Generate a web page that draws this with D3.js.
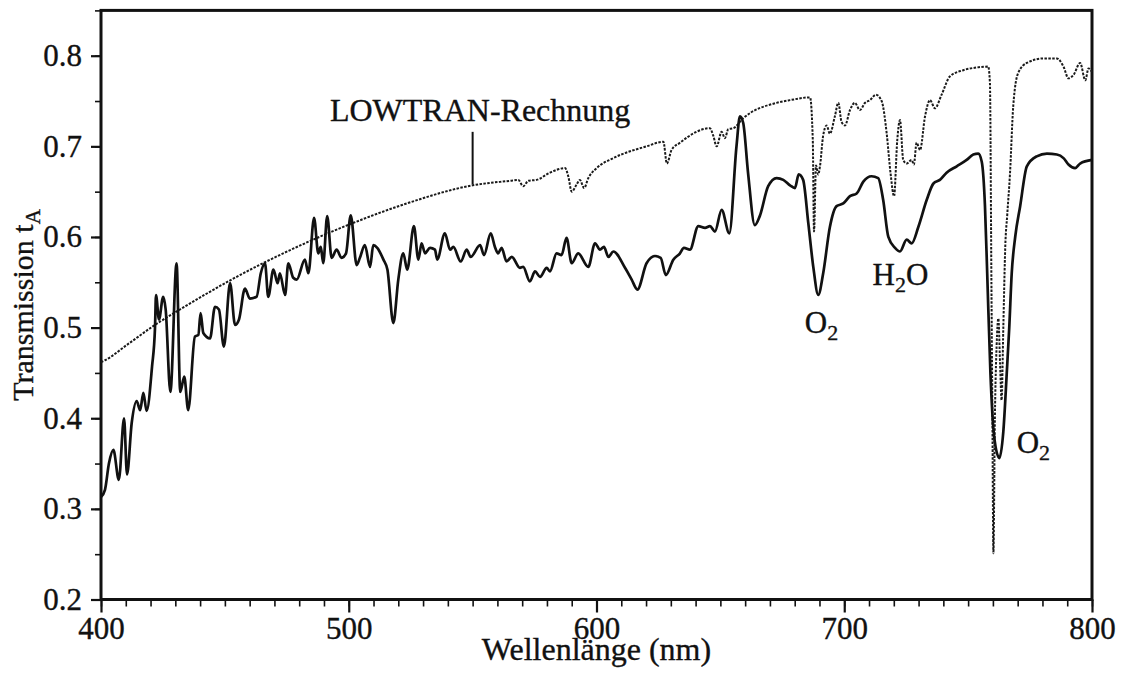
<!DOCTYPE html>
<html>
<head>
<meta charset="utf-8">
<script src="https://cdn.jsdelivr.net/npm/d3@7"></script>
<style>
  body { margin: 0; background: #fff; }
  text { font-family: "Liberation Serif", "Times New Roman", serif; fill: #111; stroke: #111; stroke-width: 0.35px; }
</style>
</head>
<body>
<svg id="chart" width="1123" height="673"></svg>
<script>
// measured transmission [wavelength nm, t_A]
const measured = [
  [400.0,0.313],[401.6,0.321],[403.2,0.350],[405.0,0.365],[407.2,0.332],[409.3,0.400],
  [410.5,0.338],[412.4,0.395],[414.4,0.419],[415.8,0.409],[417.1,0.428],[418.4,0.408],
  [420.6,0.457],[421.8,0.500],[422.2,0.536],[423.4,0.509],[425.1,0.534],[426.1,0.520],
  [428.0,0.429],[430.5,0.571],[432.0,0.429],[433.6,0.446],[435.2,0.409],[437.9,0.490],
  [439.3,0.492],[440.2,0.516],[441.3,0.494],[444.0,0.488],[446.0,0.523],[447.6,0.520],
  [449.6,0.479],[452.1,0.549],[454.1,0.503],[455.7,0.509],[458.1,0.543],[460.1,0.532],
  [462.8,0.534],[464.5,0.560],[466.2,0.571],[467.5,0.534],[469.6,0.564],[471.3,0.549],
  [472.2,0.560],[474.3,0.536],[475.6,0.571],[477.6,0.555],[479.0,0.553],[482.3,0.575],
  [483.7,0.560],[486.0,0.621],[487.7,0.582],[488.7,0.589],[489.7,0.571],[491.3,0.623],
  [493.1,0.577],[495.1,0.586],[497.1,0.577],[498.9,0.582],[500.8,0.624],[503.2,0.569],
  [504.5,0.577],[506.5,0.591],[508.6,0.567],[509.9,0.591],[511.5,0.588],[514.0,0.575],
  [515.6,0.564],[518.0,0.505],[520.0,0.553],[522.0,0.582],[523.6,0.564],[526.3,0.612],
  [528.1,0.575],[529.4,0.593],[530.8,0.582],[532.8,0.588],[534.8,0.586],[535.7,0.575],
  [538.8,0.604],[540.9,0.586],[542.2,0.589],[545.2,0.573],[547.6,0.586],[549.2,0.578],
  [553.0,0.591],[554.6,0.580],[557.3,0.604],[559.0,0.589],[560.3,0.582],[561.7,0.588],
  [563.7,0.573],[565.8,0.578],[569.1,0.566],[570.4,0.567],[573.1,0.551],[575.2,0.562],
  [577.2,0.556],[579.9,0.566],[581.2,0.562],[583.9,0.582],[585.9,0.580],[587.9,0.599],
  [590.0,0.571],[592.6,0.582],[596.7,0.567],[599.4,0.593],[601.4,0.586],[603.0,0.589],
  [604.8,0.578],[606.8,0.584],[611.5,0.566],[614.2,0.553],[616.5,0.542],[620.2,0.571],
  [623.6,0.579],[625.9,0.577],[628.0,0.558],[631.0,0.575],[633.7,0.582],[635.3,0.588],
  [637.7,0.586],[641.1,0.612],[643.8,0.610],[645.8,0.612],[647.8,0.606],[650.5,0.630],
  [653.6,0.604],[656.5,0.700],[657.9,0.733],[659.2,0.726],[661.2,0.670],[663.9,0.613],
  [665.9,0.623],[669.3,0.656],[672.7,0.665],[675.4,0.663],[678.1,0.657],[680.1,0.654],
  [681.6,0.669],[683.4,0.663],[685.5,0.615],[687.5,0.567],[689.5,0.536],[691.5,0.560],
  [694.2,0.611],[696.9,0.634],[699.6,0.637],[702.3,0.645],[705.0,0.648],[707.7,0.661],
  [711.0,0.667],[713.7,0.665],[715.7,0.641],[717.8,0.600],[720.5,0.588],[722.5,0.584],
  [725.2,0.597],[727.2,0.593],[729.9,0.611],[733.3,0.641],[736.0,0.659],[738.6,0.663],
  [741.3,0.671],[745.4,0.678],[749.4,0.685],[752.1,0.691],[754.1,0.692],[755.5,0.683],
  [756.8,0.634],[757.7,0.560],[759.0,0.450],[760.5,0.380],[762.6,0.356],[764.2,0.385],
  [765.6,0.450],[766.6,0.500],[767.6,0.560],[769.0,0.600],[771.0,0.634],[773.7,0.678],
  [777.7,0.689],[781.8,0.692],[785.8,0.691],[788.5,0.687],[790.5,0.680],[793.2,0.676],
  [795.2,0.681],[800.0,0.685]
];

// LOWTRAN calculation [wavelength nm, t_A]
const lowtran = [
  [400.0,0.462],[401.6,0.464],[411.0,0.482],[421.8,0.503],[431.9,0.520],[452.7,0.553],
  [478.3,0.588],[503.2,0.617],[523.4,0.637],[550.0,0.657],[565.1,0.662],[568.4,0.663],
  [570.4,0.656],[572.5,0.662],[575.8,0.663],[581.2,0.671],[587.3,0.676],[588.6,0.667],
  [590.0,0.650],[592.0,0.658],[593.3,0.663],[595.0,0.654],[596.7,0.665],[600.1,0.676],
  [606.8,0.687],[620.2,0.700],[627.0,0.705],[628.4,0.681],[630.3,0.696],[633.7,0.704],
  [645.8,0.720],[647.1,0.712],[648.5,0.700],[650.5,0.716],[651.8,0.709],[653.2,0.719],
  [655.2,0.720],[659.2,0.731],[672.7,0.748],[678.1,0.751],[686.2,0.754],[687.3,0.707],
  [687.8,0.606],[688.6,0.679],[689.5,0.669],[690.2,0.678],[691.5,0.712],[692.9,0.723],
  [694.2,0.714],[696.2,0.733],[697.6,0.748],[698.9,0.727],[700.3,0.723],[702.3,0.740],
  [704.3,0.748],[706.3,0.740],[708.4,0.748],[710.4,0.751],[712.8,0.757],[715.1,0.750],
  [717.1,0.715],[718.7,0.670],[720.1,0.645],[721.4,0.707],[722.5,0.729],[723.8,0.685],
  [725.2,0.681],[727.2,0.685],[728.1,0.680],[729.2,0.704],[730.6,0.696],[732.6,0.733],
  [734.6,0.751],[736.6,0.742],[739.3,0.757],[742.6,0.777],[748.0,0.784],[753.4,0.787],
  [758.1,0.788],[758.8,0.770],[759.4,0.550],[759.8,0.400],[760.2,0.251],[760.8,0.400],
  [761.5,0.480],[762.2,0.510],[762.9,0.460],[763.5,0.420],[764.2,0.500],[765.0,0.590],
  [765.8,0.625],[766.9,0.670],[768.2,0.744],[770.2,0.781],[773.7,0.792],[780.4,0.797],
  [785.8,0.797],[788.5,0.788],[790.5,0.775],[792.6,0.779],[795.2,0.792],[797.3,0.773],
  [798.6,0.786],[800.0,0.782]
];

const xTicks = [400, 500, 600, 700, 800];
const yTicks = [0.2, 0.3, 0.4, 0.5, 0.6, 0.7, 0.8];

const svg = d3.select('#chart');
const width = +svg.attr('width');
const height = +svg.attr('height');

const margin = { top: 10.4, right: 31, bottom: 73.5, left: 101 };
const innerWidth = width - margin.left - margin.right;
const innerHeight = height - margin.top - margin.bottom;

const x = d3.scaleLinear().domain([400, 800]).range([0, innerWidth]);
const y = d3.scaleLinear().domain([0.2, 0.85]).range([innerHeight, 0]);

const g = svg.append('g')
  .attr('transform', `translate(${margin.left}, ${margin.top})`);

// minor ticks (no labels)
g.append('g')
  .attr('transform', `translate(0, ${innerHeight})`)
  .call(d3.axisBottom(x).tickValues(d3.range(400, 801, 10)).tickSize(7))
  .call(a => a.select('.domain').remove())
  .call(a => a.selectAll('text').remove())
  .selectAll('line').attr('stroke', '#111').attr('stroke-width', 1.6);

g.append('g')
  .call(d3.axisLeft(y).tickValues(d3.range(0.2, 0.851, 0.05)).tickSize(6))
  .call(a => a.select('.domain').remove())
  .call(a => a.selectAll('text').remove())
  .selectAll('line').attr('stroke', '#111').attr('stroke-width', 1.6);

// major ticks + labels
const xAxis = g.append('g')
  .attr('transform', `translate(0, ${innerHeight})`)
  .call(d3.axisBottom(x).tickValues(xTicks).tickSize(13).tickPadding(4).tickFormat(d3.format('d')));
xAxis.select('.domain').remove();
xAxis.selectAll('line').attr('stroke', '#111').attr('stroke-width', 2.2);
xAxis.selectAll('text').style('font-size', '31px').attr('fill', '#111');

const yAxis = g.append('g')
  .call(d3.axisLeft(y).tickValues(yTicks).tickSize(10).tickPadding(9).tickFormat(d3.format('.1f')));
yAxis.select('.domain').remove();
yAxis.selectAll('line').attr('stroke', '#111').attr('stroke-width', 2.2);
yAxis.selectAll('text').style('font-size', '31px').attr('fill', '#111');

// frame
g.append('rect')
  .attr('width', innerWidth)
  .attr('height', innerHeight)
  .attr('fill', 'none')
  .attr('stroke', '#111')
  .attr('stroke-width', 3);

const line = d3.line()
  .x(d => x(d[0]))
  .y(d => y(d[1]))
  .curve(d3.curveMonotoneX);

g.append('path')
  .datum(lowtran)
  .attr('d', line)
  .attr('fill', 'none')
  .attr('stroke', '#1a1a1a')
  .attr('stroke-width', 2)
  .attr('stroke-dasharray', '2.5,1.4');

g.append('path')
  .datum(measured)
  .attr('d', line)
  .attr('fill', 'none')
  .attr('stroke', '#111')
  .attr('stroke-width', 2.7)
  .attr('stroke-linejoin', 'round');

// LOWTRAN annotation
g.append('line')
  .attr('x1', x(550)).attr('x2', x(550))
  .attr('y1', y(0.658)).attr('y2', y(0.716))
  .attr('stroke', '#111')
  .attr('stroke-width', 2);

g.append('text')
  .attr('x', x(492.4))
  .attr('y', y(0.728))
  .style('font-size', '32px')
  .text('LOWTRAN-Rechnung');

// absorption band labels
function label(wl, t, parts) {
  const txt = g.append('text')
    .attr('x', x(wl))
    .attr('y', y(t))
    .style('font-size', '31px');
  parts.forEach(p => {
    const ts = txt.append('tspan').text(p.s);
    if (p.sub) ts.style('font-size', '22px').attr('dy', 7);
    else if (p.after) ts.attr('dy', -7);
  });
}
label(684.1, 0.494, [{ s: 'O' }, { s: '2', sub: true }]);
label(711.4, 0.547, [{ s: 'H' }, { s: '2', sub: true }, { s: 'O', after: true }]);
label(769.6, 0.362, [{ s: 'O' }, { s: '2', sub: true }]);

// axis titles
g.append('text')
  .attr('x', x(600))
  .attr('y', innerHeight + 61)
  .attr('text-anchor', 'middle')
  .style('font-size', '32px')
  .text('Wellenlänge (nm)');

const yTitle = svg.append('text')
  .attr('transform', 'translate(33, 305) rotate(-90)')
  .attr('text-anchor', 'middle')
  .style('font-size', '30px');
yTitle.append('tspan').text('Transmission t');
yTitle.append('tspan').text('A').style('font-size', '21px').attr('dy', 7);
</script>
</body>
</html>
